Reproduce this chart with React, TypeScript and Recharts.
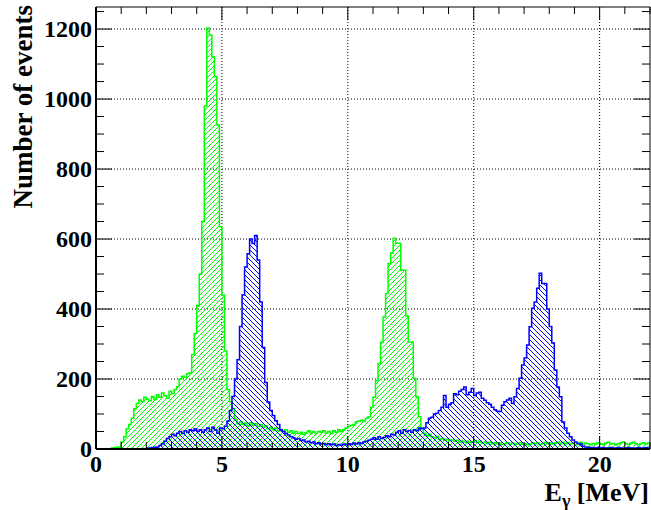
import { Area, CartesianGrid, ComposedChart, XAxis, YAxis } from "recharts";

// photon energy spectrum, 0.1 MeV bins from 0 to 22 MeV
const greenCounts = [
  0, 0, 0, 0, 0, 0, 3, 4, 5, 6,
  20, 35, 58, 70, 88, 115, 130, 140, 135, 148,
  142, 138, 150, 142, 155, 148, 160, 152, 145, 165,
  158, 170, 178, 200, 208, 205, 215, 218, 270, 330,
  410, 500, 650, 980, 1203, 1183, 1121, 1064, 926, 635,
  440, 280, 170, 135, 116, 85, 72, 78, 70, 74,
  66, 75, 68, 72, 64, 70, 62, 66, 58, 62,
  55, 60, 52, 56, 50, 55, 48, 52, 45, 50,
  44, 48, 42, 47, 52, 46, 50, 44, 50, 48,
  52, 46, 50, 44, 52, 48, 55, 50, 56, 60,
  66, 68, 70, 78, 80, 82, 80, 88, 92, 119,
  148, 196, 244, 305, 377, 444, 530, 560, 602, 588,
  588, 511, 511, 380, 306, 306, 202, 149, 92, 60,
  45, 38, 42, 35, 32, 36, 28, 30, 25, 28,
  24, 26, 22, 25, 20, 23, 19, 22, 18, 21,
  24, 19, 22, 17, 20, 16, 19, 15, 18, 14,
  17, 13, 16, 18, 14, 17, 13, 15, 18, 14,
  16, 12, 15, 18, 14, 17, 13, 16, 19, 15,
  17, 14, 18, 20, 16, 19, 15, 18, 14, 17,
  13, 16, 19, 14, 17, 15, 12, 16, 14, 18,
  15, 13, 17, 19, 14, 16, 12, 15, 18, 20,
  16, 13, 17, 19, 15, 12, 16, 18, 14, 17,
];

const blueCounts = [
  0, 0, 0, 0, 0, 0, 0, 0, 0, 0,
  0, 0, 0, 0, 0, 0, 0, 0, 0, 1,
  2, 3, 4, 5, 6, 10, 15, 22, 30, 35,
  42, 38, 45, 50, 44, 52, 48, 55, 52, 58,
  50, 55, 48, 55, 60, 50, 62, 55, 45, 60,
  58, 65, 80, 110, 150, 200, 255, 350, 440, 520,
  558, 600, 587, 610, 540, 420, 290, 190, 134, 110,
  96, 81, 70, 55, 50, 44, 40, 35, 32, 28,
  30, 24, 26, 20, 22, 18, 20, 15, 18, 14,
  16, 12, 15, 12, 14, 10, 13, 11, 14, 12,
  15, 13, 17, 14, 18, 16, 20, 22, 25, 28,
  32, 28, 35, 30, 33, 38, 35, 42, 40, 48,
  52, 45, 55, 50, 53, 48, 55, 52, 60, 58,
  60, 75, 88, 91, 100, 102, 110, 119, 153, 119,
  128, 132, 158, 155, 165, 170, 177, 155, 162, 173,
  153, 160, 162, 145, 139, 132, 128, 119, 112, 108,
  107, 125, 135, 140, 145, 130, 149, 173, 202, 240,
  260, 297, 349, 402, 420, 459, 502, 473, 473, 400,
  350, 303, 226, 177, 149, 77, 60, 45, 35, 26,
  20, 16, 14, 8, 6, 5, 4, 4, 3, 4,
  3, 4, 3, 3, 4, 3, 3, 4, 3, 3,
  3, 4, 3, 3, 3, 4, 3, 3, 4, 3,
];

const binWidth = 0.1;
const xMax = 22;
const yMax = 1263;
const xMajorTicks = [0, 5, 10, 15, 20];
const xAllTicks = [0, 1, 2, 3, 4, 5, 6, 7, 8, 9, 10, 11, 12, 13, 14, 15, 16, 17, 18, 19, 20, 21, 22];
const yMajorTicks = [0, 200, 400, 600, 800, 1000, 1200];
const yAllTicks = [
  0, 50, 100, 150, 200, 250, 300, 350, 400, 450, 500, 550, 600,
  650, 700, 750, 800, 850, 900, 950, 1000, 1050, 1100, 1150, 1200, 1250,
];

const histData = [
  ...greenCounts.map((g, i) => ({ e: Number((i * binWidth).toFixed(1)), green: g, blue: blueCounts[i] })),
  { e: xMax, green: greenCounts[greenCounts.length - 1], blue: blueCounts[blueCounts.length - 1] },
];

const font = "'Liberation Serif', 'Times New Roman', serif";
const labelStyle = { fill: "#000", fontSize: 24, fontWeight: 700, fontFamily: font };

// ROOT style: ticks point into the frame, long ones carry a label
const BottomTick = (props: any) => {
  const { x, y, payload } = props;
  const major = xMajorTicks.includes(payload.value);
  return (
    <g>
      <line x1={x} x2={x} y1={y} y2={y - (major ? 13 : 7)} stroke="#000" strokeWidth={1} />
      {major && (
        <text x={x} y={y + 23} textAnchor="middle" style={labelStyle}>
          {payload.value}
        </text>
      )}
    </g>
  );
};

const TopTick = (props: any) => {
  const { x, y, payload } = props;
  const major = xMajorTicks.includes(payload.value);
  return <line x1={x} x2={x} y1={y} y2={y + (major ? 13 : 7)} stroke="#000" strokeWidth={1} />;
};

const LeftTick = (props: any) => {
  const { x, y, payload } = props;
  const major = yMajorTicks.includes(payload.value);
  return (
    <g>
      <line x1={x} x2={x + (major ? 16 : 8)} y1={y} y2={y} stroke="#000" strokeWidth={1} />
      {major && (
        <text x={x - 4} y={y + 8} textAnchor="end" style={labelStyle}>
          {payload.value}
        </text>
      )}
    </g>
  );
};

const RightTick = (props: any) => {
  const { x, y, payload } = props;
  const major = yMajorTicks.includes(payload.value);
  return <line x1={x} x2={x - (major ? 16 : 8)} y1={y} y2={y} stroke="#000" strokeWidth={1} />;
};

export default function App() {
  return (
    <div style={{ position: "absolute", left: 0, top: 0, width: 651, height: 510, background: "#fff" }}>
      <ComposedChart width={651} height={510} data={histData} margin={{ top: 6, right: 0, left: 36, bottom: 31 }}>
        <defs>
          <pattern id="hatchGreen" width="5" height="5" patternUnits="userSpaceOnUse">
            <path d="M0,5 L5,0 M-1,1 L1,-1 M4,6 L6,4" stroke="#00ff00" strokeWidth={1} />
          </pattern>
          <pattern id="hatchBlue" width="5" height="5" patternUnits="userSpaceOnUse">
            <path d="M0,0 L5,5 M-1,4 L1,6 M4,-1 L6,1" stroke="#0000ff" strokeWidth={1} />
          </pattern>
        </defs>

        <CartesianGrid
          stroke="#000"
          strokeDasharray="1 2"
          verticalValues={xMajorTicks}
          horizontalValues={yMajorTicks}
        />

        <XAxis
          dataKey="e"
          type="number"
          domain={[0, xMax]}
          allowDataOverflow
          ticks={xAllTicks}
          interval={0}
          height={30}
          tickLine={false}
          tickSize={0}
          tickMargin={0}
          axisLine={{ stroke: "#000", strokeWidth: 2 }}
          tick={<BottomTick />}
        />
        <XAxis
          xAxisId="top"
          dataKey="e"
          orientation="top"
          type="number"
          domain={[0, xMax]}
          allowDataOverflow
          ticks={xAllTicks}
          interval={0}
          height={1}
          tickLine={false}
          tickSize={0}
          tickMargin={0}
          axisLine={{ stroke: "#000", strokeWidth: 1 }}
          tick={<TopTick />}
        />
        <YAxis
          type="number"
          domain={[0, yMax]}
          allowDataOverflow
          ticks={yAllTicks}
          interval={0}
          width={60}
          tickLine={false}
          tickSize={0}
          tickMargin={0}
          axisLine={{ stroke: "#000", strokeWidth: 2 }}
          tick={<LeftTick />}
        />
        <YAxis
          yAxisId="right"
          orientation="right"
          type="number"
          domain={[0, yMax]}
          allowDataOverflow
          ticks={yAllTicks}
          interval={0}
          width={1}
          tickLine={false}
          tickSize={0}
          tickMargin={0}
          axisLine={{ stroke: "#000", strokeWidth: 1 }}
          tick={<RightTick />}
        />

        <Area
          type="stepAfter"
          dataKey="green"
          stroke="#00ff00"
          strokeWidth={1.5}
          fill="url(#hatchGreen)"
          fillOpacity={1}
          baseValue={0}
          dot={false}
          activeDot={false}
          isAnimationActive={false}
        />
        <Area
          type="stepAfter"
          dataKey="blue"
          stroke="#0000ff"
          strokeWidth={1.5}
          fill="url(#hatchBlue)"
          fillOpacity={1}
          baseValue={0}
          dot={false}
          activeDot={false}
          isAnimationActive={false}
        />
      </ComposedChart>

      <svg width={651} height={510} style={{ position: "absolute", left: 0, top: 0, pointerEvents: "none" }}>
        <text
          x={32}
          y={5}
          transform="rotate(-90 32 5)"
          textAnchor="end"
          style={{ fontFamily: font, fontWeight: 700, fontSize: 27, fill: "#000" }}
        >
          Number of events
        </text>
        <text x={649} y={501} textAnchor="end" style={{ fontFamily: font, fontWeight: 700, fontSize: 26, fill: "#000" }}>
          <tspan>E</tspan>
          <tspan dy={6} style={{ fontSize: 18 }}>γ</tspan>
          <tspan dy={-6}> [MeV]</tspan>
        </text>
      </svg>
    </div>
  );
}
